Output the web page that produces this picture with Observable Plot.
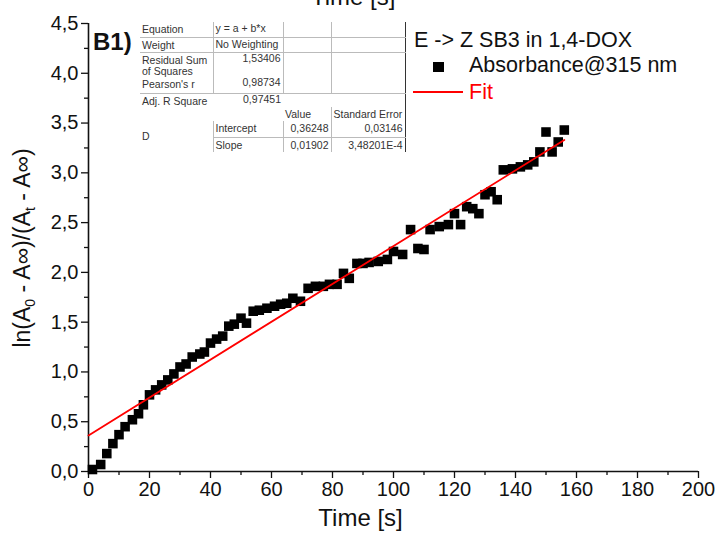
<!DOCTYPE html>
<html>
<head>
<meta charset="utf-8">
<script src="https://cdn.jsdelivr.net/npm/d3@7"></script>
<script src="https://cdn.jsdelivr.net/npm/@observablehq/plot@0.6"></script>
<style>
  html, body { margin: 0; padding: 0; background: #fff; overflow: hidden; }
  #wrap { position: relative; width: 716px; height: 536px; font-family: "Liberation Sans", Arial, sans-serif; }
  #chart svg { display: block; }
  .ov { position: absolute; white-space: nowrap; font-family: "Liberation Sans", Arial, sans-serif; line-height: normal; }
  table.fit { position: absolute; left: 140px; top: 22px; border-collapse: collapse; table-layout: fixed;
              font-family: "Liberation Sans", Arial, sans-serif; font-size: 10.5px; color: #333; }
  table.fit td { padding: 0 2px; vertical-align: top; line-height: 11px; overflow: hidden; white-space: nowrap; }
  .r { text-align: right; }
  .bb { border-bottom: 1px solid #bbb; }
  .br { border-right: 1px solid #bbb; }
  .bR { border-right: 1.5px solid #333; }
</style>
</head>
<body>
<div id="wrap">
  <div id="chart"></div>
</div>
<script>
// ---- data ----
const time = [1.3, 4, 6, 8, 10, 12, 14.4, 16.4, 18, 20, 22, 24, 26, 28, 30, 32, 34, 36.5, 38, 40,
  42, 44, 46, 47.8, 50, 51.8, 54, 56, 58.5, 61, 63, 65, 67, 69.5, 72, 74.4, 77, 79, 81.5, 83.6,
  85.5, 88, 90, 92, 95, 98, 100, 103, 105.6, 108, 110, 112, 115, 118, 120, 122, 124, 126, 128, 130,
  132, 134, 136, 139, 141.6, 144, 146, 148, 150, 152, 154, 156];
const lnRatio = [0.02, 0.07, 0.18, 0.28, 0.37, 0.45, 0.52, 0.58, 0.67, 0.77, 0.82, 0.87, 0.92, 0.98, 1.05, 1.08, 1.15, 1.18, 1.20, 1.29,
  1.33, 1.36, 1.46, 1.48, 1.54, 1.49, 1.61, 1.62, 1.64, 1.66, 1.68, 1.69, 1.74, 1.71, 1.84, 1.86, 1.86, 1.88, 1.88, 1.99,
  1.94, 2.09, 2.09, 2.10, 2.11, 2.13, 2.21, 2.18, 2.43, 2.24, 2.23, 2.43, 2.46, 2.48, 2.59, 2.48, 2.66, 2.64, 2.59, 2.78,
  2.81, 2.73, 3.03, 3.04, 3.06, 3.08, 3.11, 3.21, 3.41, 3.21, 3.31, 3.43];
const fitIntercept = 0.36248;
const fitSlope = 0.01902;
const fitRange = [0, 156];
const xTicks = [0, 20, 40, 60, 80, 100, 120, 140, 160, 180, 200];
const xMinorTicks = [10, 30, 50, 70, 90, 110, 130, 150, 170, 190];
const yTicks = [0, 0.5, 1, 1.5, 2, 2.5, 3, 3.5, 4, 4.5];
const yMinorTicks = [0.25, 0.75, 1.25, 1.75, 2.25, 2.75, 3.25, 3.75, 4.25];
const xLabel = "Time [s]";
const panelLabel = "B1)";
const legendTitle = "E -> Z SB3 in 1,4-DOX";
const legendSeries = "Absorbance@315 nm";
const legendFit = "Fit";
const tableRows = {
  equation: ["Equation", "y = a + b*x"],
  weight: ["Weight", "No Weighting"],
  rss: ["Residual Sum of Squares", "1,53406"],
  pearson: ["Pearson's r", "0,98734"],
  adjR2: ["Adj. R Square", "0,97451"],
  header: ["Value", "Standard Error"],
  intercept: ["Intercept", "0,36248", "0,03146"],
  slope: ["Slope", "0,01902", "3,48201E-4"],
  group: "D"
};

const points = time.map((t, i) => ({t, v: lnRatio[i]}));
const fitLine = fitRange.map(t => ({t, v: fitIntercept + fitSlope * t}));
const comma = d => d.toFixed(1).replace(".", ",");

const plot = Plot.plot({
  width: 716,
  height: 536,
  marginLeft: 88,
  marginRight: 18,
  marginTop: 23,
  marginBottom: 65,
  style: {fontFamily: "Liberation Sans, Arial, sans-serif", fontSize: "20px", color: "#111", background: "#fff"},
  x: {domain: [0, 200]},
  y: {domain: [0, 4.5]},
  marks: [
    Plot.axisX({ticks: xTicks, tickSize: 7, tickPadding: 3, tickFormat: d => String(d), label: null, fontSize: 20, strokeWidth: 1.3}),
    Plot.axisX({ticks: xMinorTicks, tickSize: 4, tickFormat: () => "", label: null, strokeWidth: 1.3}),
    Plot.axisY({ticks: yTicks, tickSize: 7, tickPadding: 3, tickFormat: comma, label: null, fontSize: 20, strokeWidth: 1.3}),
    Plot.axisY({ticks: yMinorTicks, tickSize: 4, tickFormat: () => "", label: null, strokeWidth: 1.3}),
    Plot.ruleX([0], {stroke: "#111", strokeWidth: 1.6}),
    Plot.ruleY([0], {stroke: "#111", strokeWidth: 1.6}),
    Plot.dot(points, {x: "t", y: "v", symbol: "square", r: 5.4, fill: "#000", stroke: null}),
    Plot.line(fitLine, {x: "t", y: "v", stroke: "#ff0000", strokeWidth: 1.8}),
    Plot.text([xLabel], {frameAnchor: "bottom", dy: 54, dx: -33, fontSize: 24, fill: "#111"})
  ]
});
document.getElementById("chart").appendChild(plot);

// y-axis label with subscripts
const svg = d3.select(plot);
const yl = svg.append("text")
  .attr("transform", "translate(30,248) rotate(-90)")
  .attr("text-anchor", "middle")
  .attr("font-size", 23)
  .attr("fill", "#111")
  .attr("font-family", "Liberation Sans, Arial, sans-serif");
yl.append("tspan").text("ln(A");
yl.append("tspan").attr("font-size", 14).attr("dy", 5).text("0");
yl.append("tspan").attr("dy", -5).text(" - A\u221E)/(A");
yl.append("tspan").attr("font-size", 14).attr("dy", 5).text("t");
yl.append("tspan").attr("dy", -5).text(" - A\u221E)");

// overlays: panel label, legend, partial top label, fit table
const wrap = document.getElementById("wrap");
function ov(html, css) {
  const d = document.createElement("div");
  d.className = "ov";
  d.innerHTML = html;
  d.style.cssText += css;
  wrap.appendChild(d);
  return d;
}
ov(panelLabel, "left:93px;top:28px;font-size:24px;font-weight:bold;color:#111;");
ov(legendTitle, "left:414px;top:28px;font-size:21.5px;color:#111;");
ov("", "left:433px;top:62px;width:11px;height:10px;background:#000;");
ov(legendSeries, "left:469px;top:53px;font-size:21.5px;color:#111;");
ov("", "left:413px;top:91px;width:50px;height:2px;background:#ff0000;");
ov(legendFit, "left:469px;top:80px;font-size:21.5px;color:#ff0000;");
ov(xLabel, "left:311px;top:-17px;font-size:24px;color:#111;");

const T = tableRows;
const tbl = document.createElement("table");
tbl.className = "fit";
tbl.innerHTML = `
<colgroup><col style="width:73px"><col style="width:70px"><col style="width:48px"><col style="width:74px"></colgroup>
<tr style="height:15px"><td class="bb br" style="padding-top:2px">${T.equation[0]}</td><td class="bb br" style="padding-top:1px">${T.equation[1]}</td><td class="bb br"></td><td class="bb bR"></td></tr>
<tr style="height:15px"><td class="bb br" style="padding-top:2px">${T.weight[0]}</td><td class="bb br" style="padding-top:1px">${T.weight[1]}</td><td class="bb br"></td><td class="bb bR"></td></tr>
<tr style="height:25px"><td class="br" style="padding-top:2px">Residual Sum<br>of Squares</td><td class="br r">${T.rss[1]}</td><td class="br"></td><td class="bR"></td></tr>
<tr style="height:16px"><td class="bb br" style="padding-top:2px">${T.pearson[0]}</td><td class="bb br r">${T.pearson[1]}</td><td class="bb br"></td><td class="bb bR"></td></tr>
<tr style="height:14px"><td style="padding-top:2px">${T.adjR2[0]}</td><td class="r">${T.adjR2[1]}</td><td></td><td class="bR"></td></tr>
<tr style="height:14px"><td></td><td></td><td class="br" style="padding-top:2px">${T.header[0]}</td><td class="bR" style="padding-top:2px">${T.header[1]}</td></tr>
<tr style="height:16px"><td rowspan="2" class="br" style="vertical-align:middle">${T.group}</td><td class="bb br" style="padding-top:2px">${T.intercept[0]}</td><td class="bb br r" style="padding-top:2px">${T.intercept[1]}</td><td class="bb bR r" style="padding-top:2px">${T.intercept[2]}</td></tr>
<tr style="height:15px"><td class="br" style="padding-top:2px">${T.slope[0]}</td><td class="br r" style="padding-top:2px">${T.slope[1]}</td><td class="bR r" style="padding-top:2px">${T.slope[2]}</td></tr>`;
wrap.appendChild(tbl);
</script>
</body>
</html>
